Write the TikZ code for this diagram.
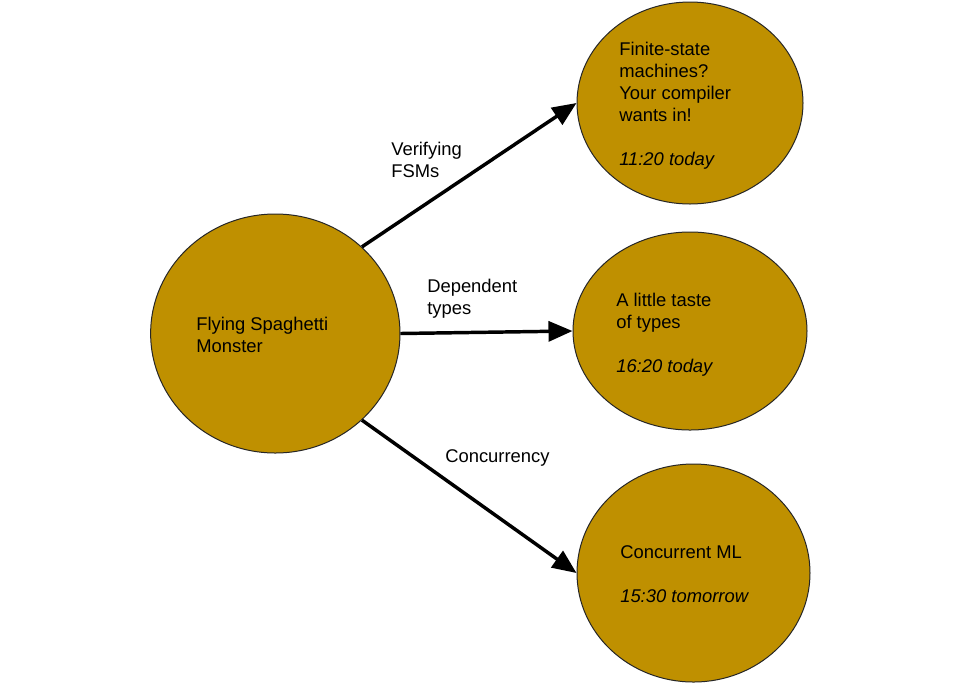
\documentclass[tikz,border=0pt]{standalone}
\usepackage{fontspec}
\setmainfont{Liberation Sans}
\usetikzlibrary{shapes.geometric,arrows.meta}
\definecolor{gold}{HTML}{BF9000}
\newcommand\blk[1]{\begin{tabular}[t]{@{}l@{}}#1\end{tabular}}
\begin{document}
\begin{tikzpicture}[x=0.75pt,y=-0.75pt,
  bubble/.style={ellipse,draw=black!85,line width=0.75pt,fill=gold,inner sep=0pt},
  txt/.style={anchor=base west,inner sep=0pt,font=\fontsize{13.8}{16.5}\selectfont},
  conn/.style={line width=2.6pt,-{Triangle[length=18pt,width=15pt]}}]
\fill[white] (0,0) rectangle (960,683);
\useasboundingbox (0,0) rectangle (960,683);
\node[bubble,minimum width=187pt,minimum height=179.25pt] (c) at (275.3,333.5) {};
\node[bubble,minimum width=169.5pt,minimum height=151.5pt] (t) at (690,103) {};
\node[bubble,minimum width=175.5pt,minimum height=148.5pt] (m) at (690,331) {};
\node[bubble,minimum width=174.75pt,minimum height=163.5pt] (b) at (693.5,573) {};
\node[txt] (ct) at (196,330) {\blk{Flying Spaghetti\\Monster}};
\node[txt] (tt) at (619,55) {\blk{Finite-state\\machines?\\Your compiler\\wants in!\\ \\\textit{11:20 today}}};
\node[txt] (mt) at (616,306) {\blk{A little taste\\of types\\ \\\textit{16:20 today}}};
\node[txt] (bt) at (620,558) {\blk{Concurrent ML\\ \\\textit{15:30 tomorrow}}};
\node[txt] (l1) at (391,155) {\blk{Verifying\\FSMs}};
\node[txt] (l2) at (427,292) {\blk{Dependent\\types}};
\node[txt] (l3) at (445,462) {Concurrency};
\draw[conn] (c.45) -- (t.west);
\draw[conn] (c.east) -- (m.west);
\draw[conn] (c.-45) -- (b.west);
\end{tikzpicture}
\end{document}
